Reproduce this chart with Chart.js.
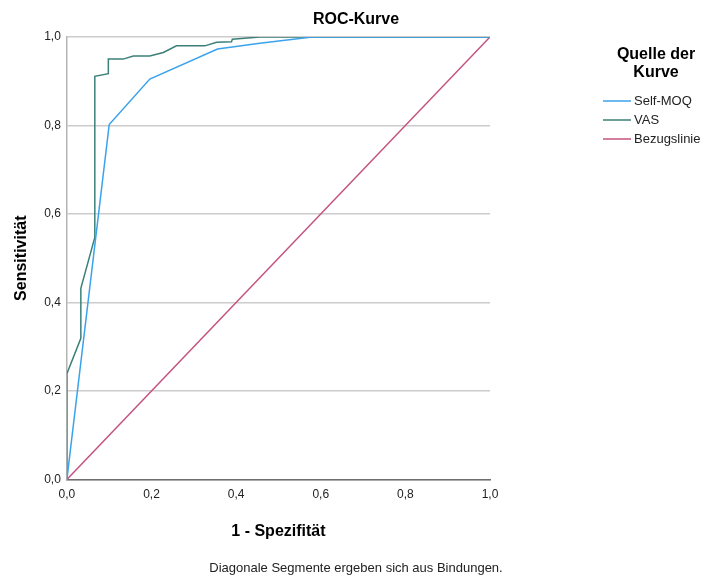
<!DOCTYPE html>
<html>
<head>
<meta charset="utf-8">
<script src="https://cdn.jsdelivr.net/npm/chart.js@4"></script>
<style>
  html, body { margin: 0; padding: 0; background: #fff; }
  #wrap { width: 712px; height: 579px; }
</style>
</head>
<body>
<div id="wrap"><canvas id="roc" width="712" height="579"></canvas></div>
<script>
// ROC data (1 - Spezifität / Sensitivität)
const seriesNames = ['Self-MOQ', 'VAS', 'Bezugslinie'];
const seriesColors = ['#3ba3ec', '#3b8078', '#c4527f'];

const selfMoqX = [0, 0.100, 0.196, 0.356, 0.456, 0.580, 1.0];
const selfMoqY = [0, 0.802, 0.905, 0.973, 0.986, 1.0, 1.0];

const vasX = [0, 0, 0.033, 0.033, 0.066, 0.066, 0.098, 0.098, 0.133, 0.157, 0.196, 0.228, 0.259, 0.326, 0.354, 0.389, 0.391, 0.456, 1.0];
const vasY = [0, 0.239, 0.319, 0.432, 0.547, 0.911, 0.917, 0.950, 0.950, 0.957, 0.957, 0.965, 0.980, 0.980, 0.988, 0.989, 0.995, 1.0, 1.0];

const refX = [0, 1];
const refY = [0, 1];

const tickValues = [0, 0.2, 0.4, 0.6, 0.8, 1.0];

const chartTitle = 'ROC-Kurve';
const legendTitle = ['Quelle der', 'Kurve'];
const footnote = 'Diagonale Segmente ergeben sich aus Bindungen.';

function toPoints(xs, ys) {
    return xs.map((x, i) => ({ x: x, y: ys[i] }));
}

const FONT = "'Liberation Sans', Arial, sans-serif";

// Title, footnote and the legend on the right, drawn like the SPSS one
const rocDecor = {
    id: 'rocDecor',
    afterDraw(chart) {
        const ctx = chart.ctx;
        const left = chart.chartArea.right;
        const mid = chart.width / 2;
        ctx.save();
        ctx.textBaseline = 'middle';
        ctx.textAlign = 'center';

        ctx.fillStyle = '#000';
        ctx.font = 'bold 16px ' + FONT;
        ctx.fillText(chartTitle, mid, 20);

        ctx.fillStyle = '#222';
        ctx.font = '13px ' + FONT;
        ctx.fillText(footnote, mid, 568);

        ctx.fillStyle = '#000';
        ctx.font = 'bold 16px ' + FONT;
        legendTitle.forEach((t, i) => ctx.fillText(t, left + 166, 55 + i * 18));

        ctx.font = '13px ' + FONT;
        ctx.textAlign = 'left';
        chart.data.datasets.forEach((ds, i) => {
            const y = 101 + i * 19;
            ctx.strokeStyle = ds.borderColor;
            ctx.lineWidth = 1.5;
            ctx.beginPath();
            ctx.moveTo(left + 113, y);
            ctx.lineTo(left + 141, y);
            ctx.stroke();
            ctx.fillStyle = '#222';
            ctx.fillText(ds.label, left + 144, y);
        });
        ctx.restore();
    }
};

const fmt = v => v.toFixed(1).replace('.', ',');

new Chart(document.getElementById('roc'), {
    type: 'scatter',
    data: {
        datasets: [
            { label: seriesNames[0], data: toPoints(selfMoqX, selfMoqY), borderColor: seriesColors[0] },
            { label: seriesNames[1], data: toPoints(vasX, vasY), borderColor: seriesColors[1] },
            { label: seriesNames[2], data: toPoints(refX, refY), borderColor: seriesColors[2] }
        ].map(ds => Object.assign(ds, {
            showLine: true,
            borderWidth: 1.5,
            pointRadius: 0,
            backgroundColor: ds.borderColor,
            tension: 0
        }))
    },
    options: {
        responsive: false,
        animation: false,
        layout: { padding: { left: 12, right: 222, top: 37, bottom: 38 } },
        plugins: {
            legend: { display: false },
            tooltip: { enabled: false },
            title: { display: false }
        },
        scales: {
            x: {
                type: 'linear',
                min: 0,
                max: 1,
                afterBuildTicks: axis => { axis.ticks = tickValues.map(v => ({ value: v })); },
                ticks: { callback: fmt, color: '#222', font: { family: FONT, size: 12 }, padding: 8, maxRotation: 0 },
                grid: { display: false, drawTicks: false },
                border: { display: true, color: '#6e6e6e', width: 1.5 },
                title: {
                    display: true,
                    text: '1 - Spezifität',
                    color: '#000',
                    font: { family: FONT, size: 16, weight: 'bold' },
                    padding: { top: 12, bottom: 0 }
                }
            },
            y: {
                type: 'linear',
                min: 0,
                max: 1,
                afterBuildTicks: axis => { axis.ticks = tickValues.map(v => ({ value: v })); },
                ticks: { callback: fmt, color: '#222', font: { family: FONT, size: 12 }, padding: 6 },
                grid: { color: '#cccccc', lineWidth: 1.5, drawTicks: false },
                border: { display: true, color: '#b4b4b4', width: 1.5 },
                title: {
                    display: true,
                    text: 'Sensitivität',
                    color: '#000',
                    font: { family: FONT, size: 16, weight: 'bold' },
                    padding: { top: 0, bottom: 7 }
                }
            }
        }
    },
    plugins: [rocDecor]
});
</script>
</body>
</html>
